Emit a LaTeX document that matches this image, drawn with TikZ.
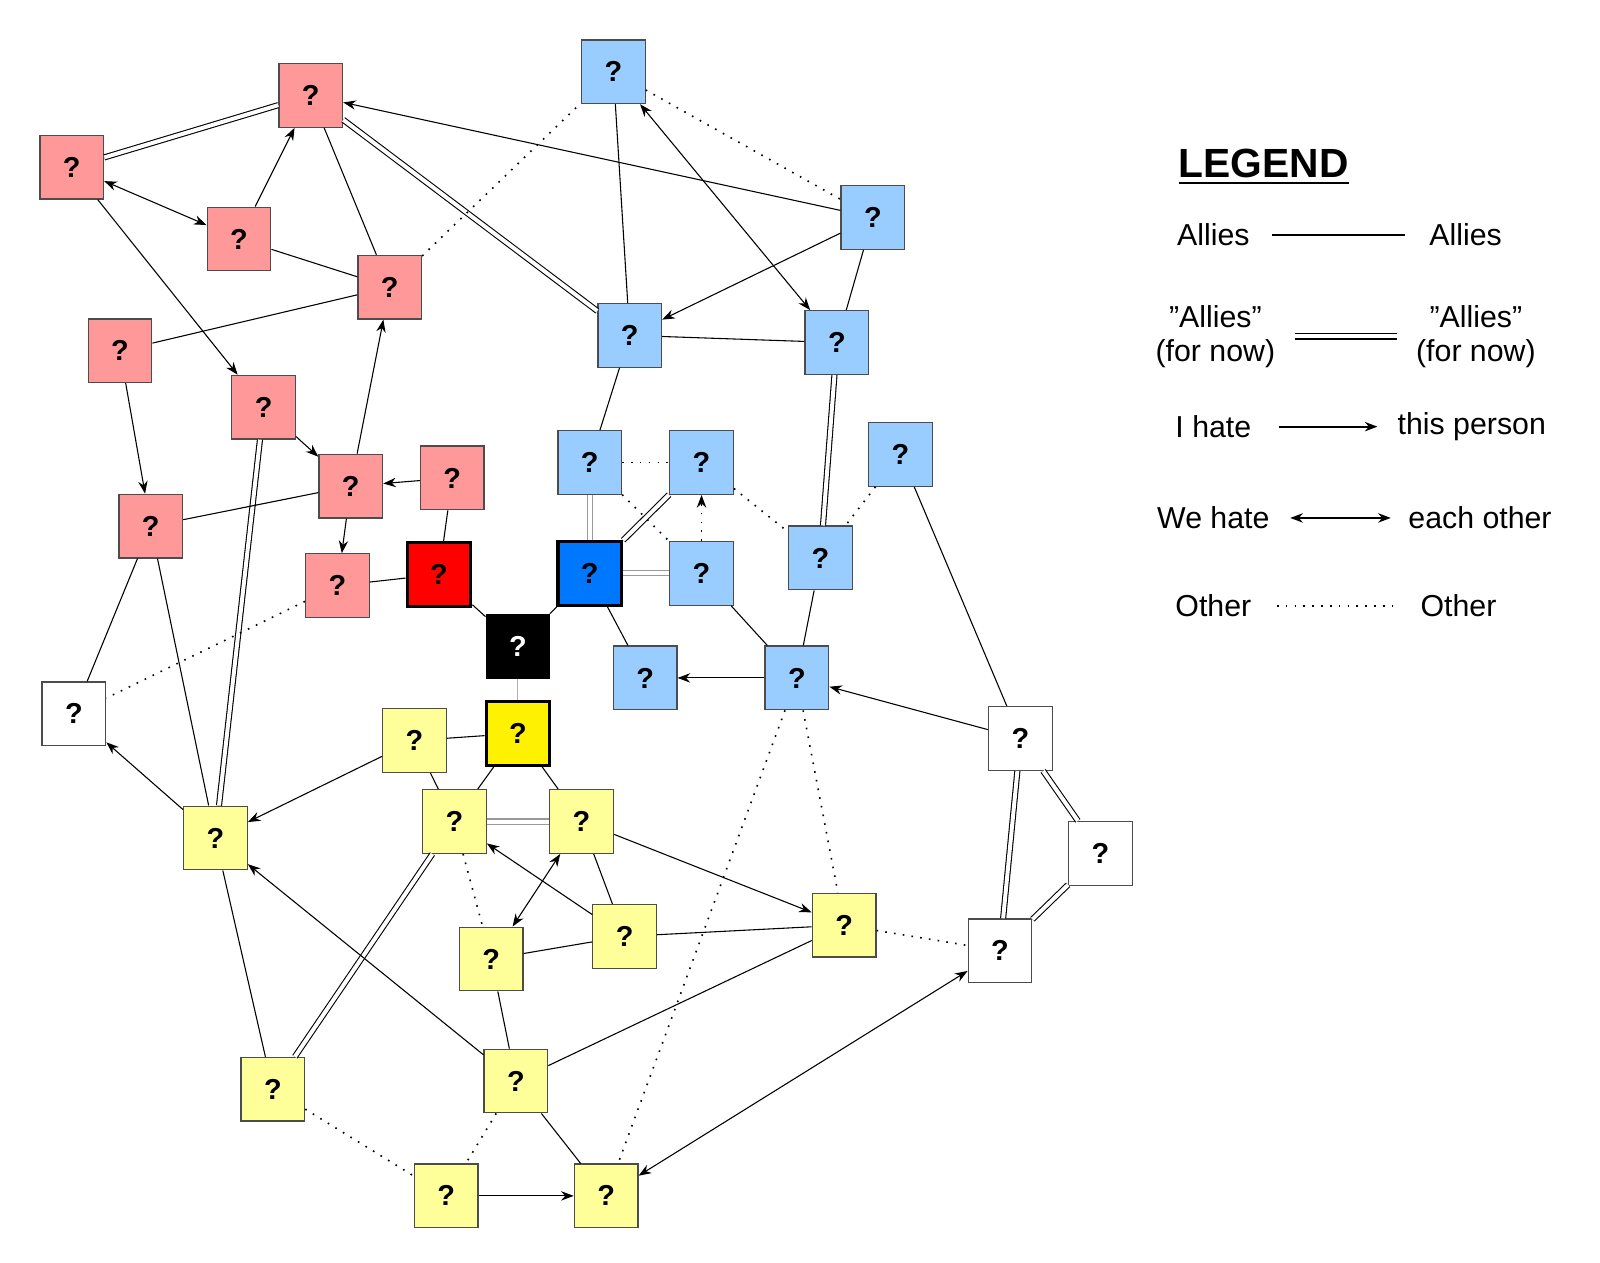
\documentclass[tikz,border=0pt]{standalone}
\usepackage{fontspec}
\setmainfont{Liberation Sans}
\usetikzlibrary{arrows.meta}
\definecolor{redlight}{RGB}{255,153,153}
\definecolor{bluelight}{RGB}{153,204,255}
\definecolor{bluemain}{RGB}{0,119,255}
\definecolor{yellowlight}{RGB}{255,255,153}
\tikzset{
	person/.style={draw=black!70, line width=0.35pt, minimum size=0.62cm, inner sep=0pt,
		font=\fontsize{8}{9}\selectfont\bfseries},
	red/.style={person, fill=redlight},
	blue/.style={person, fill=bluelight},
	yel/.style={person, fill=yellowlight},
	wht/.style={person, fill=white},
	boss/.style={person, draw=black, line width=0.9pt},
	ally/.style={line width=0.3pt},
	fake/.style={double, double distance=1.1pt, line width=0.3pt},
	hate/.style={line width=0.3pt, -{Stealth[length=3.5pt,width=2.6pt]}},
	mutual/.style={line width=0.3pt, {Stealth[length=3.5pt,width=2.6pt]}-{Stealth[length=3.5pt,width=2.6pt]}},
	other/.style={line width=0.45pt, dotted},
	legtext/.style={font=\fontsize{8.4}{9.4}\selectfont, align=center}
}
\begin{document}
\begin{tikzpicture}[x=0.01cm, y=-0.01cm]
	\useasboundingbox (0,0) rectangle (1560,1231);
	% rote Gruppe
	\node[red] (r1) at (303,93) {?};
	\node[red] (r2) at (70,163) {?};
	\node[red] (r3) at (233,233) {?};
	\node[red] (r4) at (380,280) {?};
	\node[red] (r5) at (117,342) {?};
	\node[red] (r6) at (257,397) {?};
	\node[red] (r7) at (342,474) {?};
	\node[red] (r8) at (441,466) {?};
	\node[red] (r9) at (147,513) {?};
	\node[red] (r10) at (329,571) {?};
	\node[boss, fill=red] (R) at (428,560) {?};
	\node[person, draw=black, fill=black, text=white] (K) at (505,630) {?};
	% blaue Gruppe
	\node[blue] (b1) at (598,70) {?};
	\node[blue] (b2) at (851,212) {?};
	\node[blue] (b3) at (614,327) {?};
	\node[blue] (b4) at (816,334) {?};
	\node[blue] (b5) at (575,451) {?};
	\node[blue] (b6) at (684,451) {?};
	\node[blue] (b7) at (878,443) {?};
	\node[blue] (b8) at (684,559) {?};
	\node[blue] (b9) at (800,544) {?};
	\node[boss, fill=bluemain] (B) at (575,559) {?};
	\node[blue] (b10) at (629,661) {?};
	\node[blue] (b11) at (777,661) {?};
	% weisse Gruppe
	\node[wht] (w1) at (72,696) {?};
	\node[wht] (w2) at (995,720) {?};
	\node[wht] (w3) at (1073,832) {?};
	\node[wht] (w4) at (975,927) {?};
	% gelbe Gruppe
	\node[boss, fill=yellow] (Y) at (505,715) {?};
	\node[yel] (y1) at (404,722) {?};
	\node[yel] (y2) at (210,817) {?};
	\node[yel] (y3) at (443,801) {?};
	\node[yel] (y4) at (567,801) {?};
	\node[yel] (y5) at (609,913) {?};
	\node[yel] (y6) at (823,902) {?};
	\node[yel] (y7) at (479,935) {?};
	\node[yel] (y8) at (266,1062) {?};
	\node[yel] (y9) at (503,1054) {?};
	\node[yel] (y10) at (435,1166) {?};
	\node[yel] (y11) at (591,1166) {?};

	% Verbindungen
	\draw[fake] (r2) -- (r1);
	\draw[mutual] (r2) -- (r3);
	\draw[hate] (r2) -- (r6);
	\draw[hate] (r3) -- (r1);
	\draw[ally] (r3) -- (r4);
	\draw[ally] (r1) -- (r4);
	\draw[fake] (r1) -- (b3);
	\draw[hate] (b2) -- (r1);
	\draw[other] (r4) -- (b1);
	\draw[ally] (r5) -- (r4);
	\draw[hate] (r5) -- (r9);
	\draw[hate] (r6) -- (r7);
	\draw[fake] (r6) -- (y2);
	\draw[hate] (r7) -- (r4);
	\draw[hate] (r8) -- (r7);
	\draw[hate] (r7) -- (r10);
	\draw[ally] (r9) -- (r7);
	\draw[ally] (r8) -- (R);
	\draw[ally] (r10) -- (R);
	\draw[other] (r10) -- (w1);
	\draw[ally] (r9) -- (w1);
	\draw[ally] (r9) -- (y2);
	\draw[ally] (R) -- (K);
	\draw[ally] (B) -- (K);
	\draw[ally, black!30] (K) -- (Y);
	\draw[ally] (b1) -- (b3);
	\draw[other] (b1) -- (b2);
	\draw[mutual] (b1) -- (b4);
	\draw[hate] (b2) -- (b3);
	\draw[ally] (b2) -- (b4);
	\draw[ally] (b3) -- (b4);
	\draw[ally] (b3) -- (b5);
	\draw[fake] (b4) -- (b9);
	\draw[other] (b5) -- (b6);
	\draw[fake, black!40] (b5) -- (B);
	\draw[other] (b5) -- (b8);
	\draw[fake] (B) -- (b6);
	\draw[other, -{Stealth[length=3.5pt,width=2.6pt]}] (b8) -- (b6);
	\draw[fake, black!40] (B) -- (b8);
	\draw[other] (b6) -- (b9);
	\draw[other] (b7) -- (b9);
	\draw[ally] (b7) -- (w2);
	\draw[ally] (B) -- (b10);
	\draw[ally] (b8) -- (b11);
	\draw[ally] (b9) -- (b11);
	\draw[hate] (b11) -- (b10);
	\draw[hate] (w2) -- (b11);
	\draw[other] (b11) -- (y6);
	\draw[other] (b11) -- (y11);
	\draw[fake] (w2) -- (w4);
	\draw[fake] (w2) -- (w3);
	\draw[fake] (w3) -- (w4);
	\draw[other] (y6) -- (w4);
	\draw[mutual] (y11) -- (w4);
	\draw[ally] (Y) -- (y1);
	\draw[ally] (Y) -- (y3);
	\draw[ally] (Y) -- (y4);
	\draw[ally] (y1) -- (y3);
	\draw[hate] (y1) -- (y2);
	\draw[hate] (y2) -- (w1);
	\draw[ally] (y2) -- (y8);
	\draw[fake, black!40] (y3) -- (y4);
	\draw[fake] (y3) -- (y8);
	\draw[other] (y3) -- (y7);
	\draw[hate] (y5) -- (y3);
	\draw[mutual] (y4) -- (y7);
	\draw[ally] (y4) -- (y5);
	\draw[hate] (y4) -- (y6);
	\draw[ally] (y5) -- (y6);
	\draw[ally] (y7) -- (y5);
	\draw[ally] (y7) -- (y9);
	\draw[hate] (y9) -- (y2);
	\draw[ally] (y9) -- (y6);
	\draw[other] (y9) -- (y10);
	\draw[ally] (y9) -- (y11);
	\draw[other] (y8) -- (y10);
	\draw[hate] (y10) -- (y11);

	% Legende
	\node[font=\fontsize{11.3}{13}\selectfont\bfseries] (legend) at (1232,163) {\underline{LEGEND}};
	\node[legtext] (la1) at (1183,229) {Allies};
	\node[legtext] (la2) at (1429,229) {Allies};
	\node[legtext] (lf1) at (1185,328) {\symbol{34}Allies\symbol{34}\\(for now)};
	\node[legtext] (lf2) at (1439,328) {\symbol{34}Allies\symbol{34}\\(for now)};
	\node[legtext] (lh1) at (1183,416) {I hate};
	\node[legtext] (lh2) at (1435,416) {this person};
	\node[legtext] (lm1) at (1183,505) {We hate};
	\node[legtext] (lm2) at (1443,505) {each other};
	\node[legtext] (lo1) at (1183,591) {Other};
	\node[legtext] (lo2) at (1422,591) {Other};
	\coordinate (la-s) at (1240,229);
	\coordinate (la-e) at (1370,229);
	\coordinate (lf-s) at (1263,328);
	\coordinate (lf-e) at (1362,328);
	\coordinate (lh-s) at (1247,416);
	\coordinate (lh-e) at (1343,416);
	\coordinate (lm-s) at (1258,505);
	\coordinate (lm-e) at (1356,505);
	\coordinate (lo-s) at (1245,591);
	\coordinate (lo-e) at (1360,591);
	\draw[ally, line width=0.5pt] (la-s) -- (la-e);
	\draw[fake, line width=0.45pt] (lf-s) -- (lf-e);
	\draw[hate, line width=0.5pt] (lh-s) -- (lh-e);
	\draw[mutual, line width=0.5pt] (lm-s) -- (lm-e);
	\draw[other, line width=0.55pt] (lo-s) -- (lo-e);
\end{tikzpicture}
\end{document}
